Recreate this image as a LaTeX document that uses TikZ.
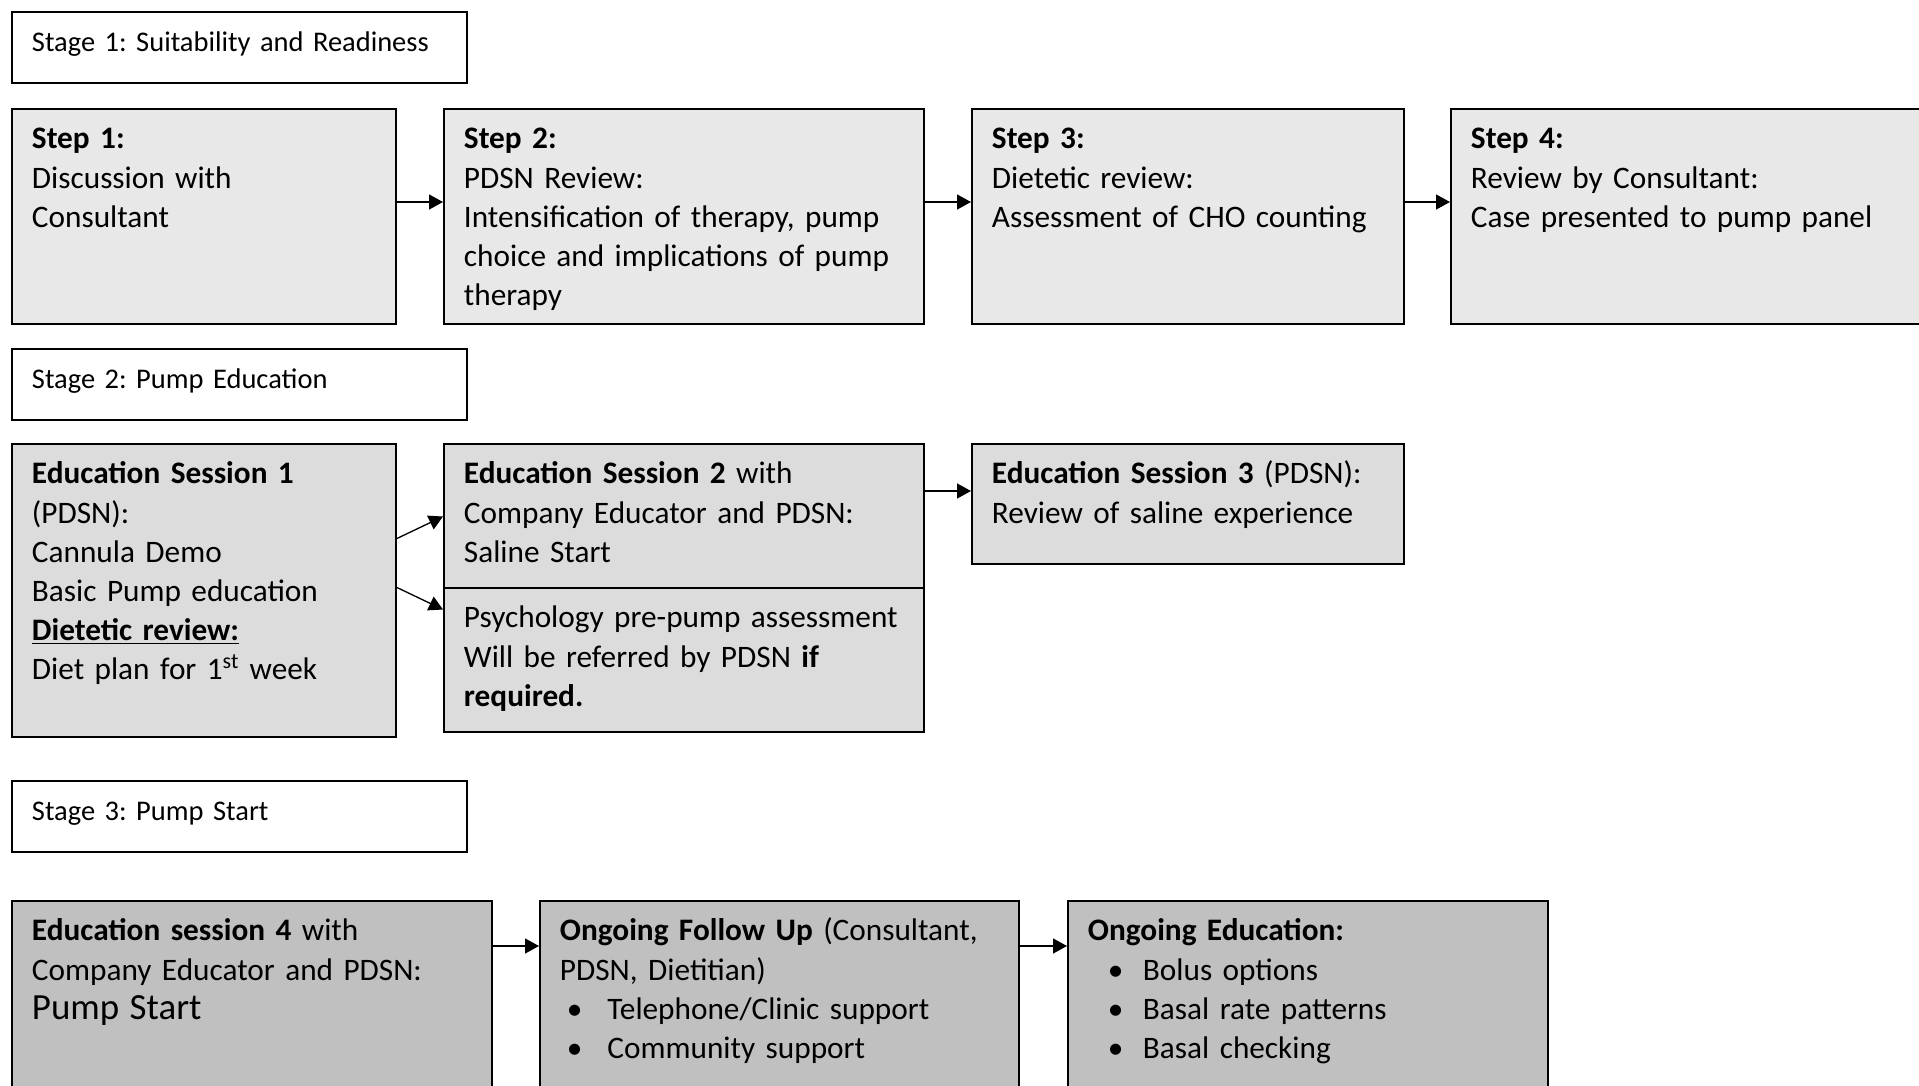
\documentclass[tikz,border=0pt]{standalone}
\usepackage{fontspec}
\setmainfont{Carlito}
\usetikzlibrary{arrows.meta}
\definecolor{stepgray}{HTML}{E8E8E8}
\definecolor{edugray}{HTML}{DCDCDC}
\definecolor{startgray}{HTML}{C0C0C0}
\newcommand{\pbul}[3]{\hspace*{#1}\makebox[#2][l]{\textbullet}#3}
\frenchspacing

\begin{document}
\begin{tikzpicture}[
    box/.style={draw,line width=1.1pt,anchor=north west,inner xsep=0.4cm,inner ysep=0.4cm,
      text height=0.4cm,align=left,font=\fontsize{17.8}{22.3}\selectfont},
    stagebox/.style={box,fill=white,text width=8.3cm,text depth=0.22cm,font=\fontsize{16.2}{20}\selectfont},
    stepbox/.style={box,fill=stepgray,text depth=3.1cm},
    edubox/.style={box,fill=edugray},
    startbox/.style={box,fill=startgray,text depth=3cm},
    link/.style={-{Triangle[length=0.28cm,width=0.3cm]},line width=0.75pt}
  ]
  \useasboundingbox (0,0) rectangle (38.38,-21.7);
  % stage 1
  \node[stagebox] (stage1) at (0.22,-0.22) {Stage 1: Suitability and Readiness};
  \node[stepbox,text width=6.88cm] (step1) at (0.22,-2.16)
    {\textbf{Step 1:}\\Discussion with\\Consultant};
  \node[stepbox,text width=8.8cm] (step2) at (8.86,-2.16)
    {\textbf{Step 2:}\\PDSN Review:\\\mbox{Intensification of therapy, pump}\\\mbox{choice and implications of pump}\\therapy};
  \node[stepbox,text width=7.84cm] (step3) at (19.42,-2.16)
    {\textbf{Step 3:}\\Dietetic review:\\\mbox{Assessment of CHO counting}};
  \node[stepbox,text width=8.8cm] (step4) at (29,-2.16)
    {\textbf{Step 4:}\\Review by Consultant:\\Case presented to pump panel};
  \draw[link] ([yshift=-1.88cm]step1.north east) -- ([yshift=-1.88cm]step2.north west);
  \draw[link] ([yshift=-1.88cm]step2.north east) -- ([yshift=-1.88cm]step3.north west);
  \draw[link] ([yshift=-1.88cm]step3.north east) -- ([yshift=-1.88cm]step4.north west);
  % stage 2
  \node[stagebox] (stage2) at (0.22,-6.96) {Stage 2: Pump Education};
  \node[edubox,text width=6.88cm,text depth=4.66cm] (edu1) at (0.22,-8.86)
    {\textbf{Education Session 1}\\(PDSN):\\Cannula Demo\\Basic Pump education\\
     \underline{\textbf{Dietetic review:}}\\Diet plan for 1\textsuperscript{st} week};
  \node[edubox,text width=8.8cm,text depth=1.68cm] (edu2) at (8.86,-8.86)
    {\textbf{Education Session 2} with\\Company Educator and PDSN:\\Saline Start};
  \node[edubox,text width=8.8cm,text depth=1.68cm] (psych) at (8.86,-11.74)
    {\mbox{Psychology pre-pump assessment}\\Will be referred by PDSN \textbf{if}\\\textbf{required.}};
  \node[edubox,text width=7.84cm,text depth=1.2cm] (edu3) at (19.42,-8.86)
    {\textbf{Education Session 3} (PDSN):\\Review of saline experience};
  \draw[link] ([yshift=-1.91cm]edu1.north east) -- ([yshift=-1.47cm]edu2.north west);
  \draw[link] ([yshift=-2.89cm]edu1.north east) -- ([yshift=-0.45cm]psych.north west);
  \draw[link] ([yshift=-0.96cm]edu2.north east) -- ([yshift=-0.96cm]edu3.north west);
  % stage 3
  \node[stagebox] (stage3) at (0.22,-15.6) {Stage 3: Pump Start};
  \node[startbox,text width=8.8cm] (edu4) at (0.22,-18)
    {\textbf{Education session 4} with\\Company Educator and PDSN:\\{\fontsize{21}{22.3}\selectfont Pump Start}};
  \node[startbox,text width=8.78cm] (follow) at (10.78,-18)
    {\mbox{\textbf{Ongoing Follow Up} (Consultant,}\\PDSN, Dietitian)\\
     \pbul{0.14cm}{0.81cm}{Telephone/Clinic support}\\\pbul{0.14cm}{0.81cm}{Community support}};
  \node[startbox,text width=8.8cm] (ongoing) at (21.34,-18)
    {\textbf{Ongoing Education:}\\\pbul{0.4cm}{0.7cm}{Bolus options}\\
     \pbul{0.4cm}{0.7cm}{Basal rate patterns}\\\pbul{0.4cm}{0.7cm}{Basal checking}};
  \draw[link] ([yshift=-0.92cm]edu4.north east) -- ([yshift=-0.92cm]follow.north west);
  \draw[link] ([yshift=-0.92cm]follow.north east) -- ([yshift=-0.92cm]ongoing.north west);
\end{tikzpicture}
\end{document}
